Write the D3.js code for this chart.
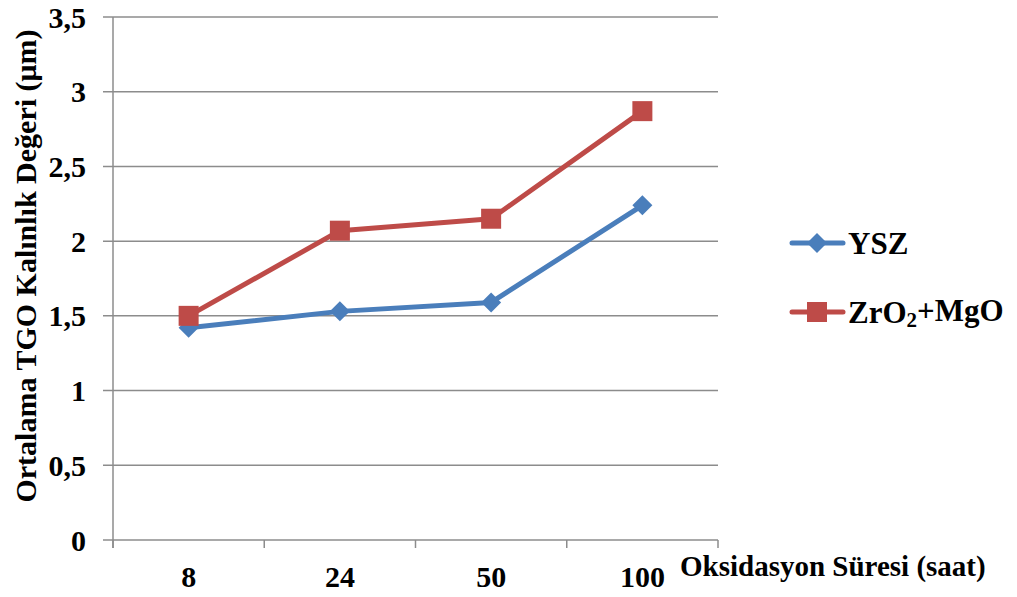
<!DOCTYPE html>
<html>
<head>
<meta charset="utf-8">
<script src="https://cdn.jsdelivr.net/npm/d3@7"></script>
<style>
  html, body { margin: 0; padding: 0; background: #fff; }
  svg { display: block; }
  text { font-family: "Liberation Serif", "Times New Roman", serif; font-weight: bold; fill: #000; }
</style>
</head>
<body>
<svg id="chart" width="1017" height="597"></svg>
<script>
// Oxidation time categories (hours)
const categories = ["8", "24", "50", "100"];
// Mean TGO thickness (µm) per coating
const ysz = [1.42, 1.53, 1.59, 2.24];
const zro2mgo = [1.50, 2.07, 2.15, 2.87];
const yTicks = [0, 0.5, 1, 1.5, 2, 2.5, 3, 3.5];
const seriesNames = ["YSZ", "ZrO2+MgO"];

const svg = d3.select("#chart");
const plot = { left: 113, right: 718, top: 17, bottom: 540 };

const x = d3.scaleBand().domain(categories).range([plot.left, plot.right]);
const y = d3.scaleLinear().domain([0, 3.5]).range([plot.bottom, plot.top]);

const gridColor = "#8c8c8c";

// Horizontal gridlines with left tick stubs
svg.append("g").selectAll("line").data(yTicks).join("line")
  .attr("x1", plot.left - 10).attr("x2", plot.right)
  .attr("y1", d => y(d)).attr("y2", d => y(d))
  .attr("stroke", gridColor).attr("stroke-width", 1.5);

// Value axis line
svg.append("line")
  .attr("x1", plot.left).attr("x2", plot.left)
  .attr("y1", plot.top).attr("y2", plot.bottom + 8)
  .attr("stroke", gridColor).attr("stroke-width", 1.5);

// Category tick marks at band boundaries
const edges = categories.map(c => x(c)).concat([plot.right]);
svg.append("g").selectAll("line").data(edges).join("line")
  .attr("x1", d => d).attr("x2", d => d)
  .attr("y1", plot.bottom).attr("y2", plot.bottom + 8)
  .attr("stroke", gridColor).attr("stroke-width", 1.5);

// Y tick labels
const fmt = d => String(d).replace(".", ",");
svg.append("g").selectAll("text").data(yTicks).join("text")
  .attr("x", 86).attr("y", d => y(d)).attr("dy", "0.35em")
  .attr("text-anchor", "end").attr("font-size", 30)
  .text(fmt);

// X tick labels
svg.append("g").selectAll("text").data(categories).join("text")
  .attr("x", d => x(d) + x.bandwidth() / 2).attr("y", 587)
  .attr("text-anchor", "middle").attr("font-size", 30)
  .text(d => d);

// Axis titles
svg.append("text")
  .attr("transform", "translate(36,266) rotate(-90)")
  .attr("text-anchor", "middle").attr("font-size", 30)
  .text("Ortalama TGO Kalınlık Değeri (μm)");

svg.append("text")
  .attr("x", 680).attr("y", 576)
  .attr("font-size", 29)
  .text("Oksidasyon Süresi (saat)");

// Series
const series = [
  { name: seriesNames[0], values: ysz, color: "#4a7ebb", marker: "diamond" },
  { name: seriesNames[1], values: zro2mgo, color: "#be4b48", marker: "square" }
];

const line = d3.line()
  .x((d, i) => x(categories[i]) + x.bandwidth() / 2)
  .y(d => y(d));

function drawMarker(g, type, cx, cy, color) {
  if (type === "diamond") {
    const r = 10;
    g.append("path")
      .attr("d", `M${cx},${cy - r}L${cx + r},${cy}L${cx},${cy + r}L${cx - r},${cy}Z`)
      .attr("fill", color);
  } else {
    const s = 20;
    g.append("rect")
      .attr("x", cx - s / 2).attr("y", cy - s / 2)
      .attr("width", s).attr("height", s)
      .attr("fill", color);
  }
}

series.forEach(s => {
  const g = svg.append("g");
  g.append("path").datum(s.values)
    .attr("d", line).attr("fill", "none")
    .attr("stroke", s.color).attr("stroke-width", 5)
    .attr("stroke-linejoin", "round").attr("stroke-linecap", "round");
  s.values.forEach((v, i) => {
    drawMarker(g, s.marker, x(categories[i]) + x.bandwidth() / 2, y(v), s.color);
  });
});

// Legend
const legendY = [243, 312];
series.forEach((s, i) => {
  const g = svg.append("g");
  const ly = legendY[i];
  g.append("line")
    .attr("x1", 792).attr("x2", 843).attr("y1", ly).attr("y2", ly)
    .attr("stroke", s.color).attr("stroke-width", 5).attr("stroke-linecap", "round");
  drawMarker(g, s.marker, 817, ly, s.color);
  const t = g.append("text").attr("x", 848).attr("y", ly).attr("dy", "0.35em")
    .attr("font-size", 31);
  if (s.name === "ZrO2+MgO") {
    t.append("tspan").text("ZrO");
    t.append("tspan").attr("font-size", 21).attr("dy", "0.2em").text("2");
    t.append("tspan").attr("dy", "-0.2em").text("+MgO");
  } else {
    t.text(s.name);
  }
});
</script>
</body>
</html>
